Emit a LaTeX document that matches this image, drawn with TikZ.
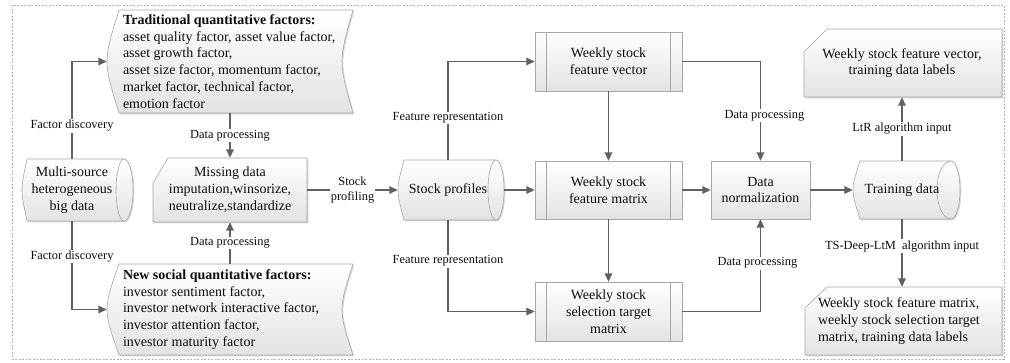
\documentclass[tikz,border=0pt]{standalone}
\usepackage{fontspec}
\setmainfont{Liberation Serif}
\usetikzlibrary{arrows.meta,shadows}
\newcommand\rsCyl[7]{% Lb Lc Rc Rout Rin T B
  \pgfmathsetmacro\rsM{(#6+#7)/2}%
  \pgfmathsetmacro\rsK{0.5523*(#7-#6)/2}%
  \path[nodefill] (#2,#6) -- (#3,#6)
    .. controls ({#3+0.5523*(#4-#3)},#6) and (#4,{\rsM-\rsK}) .. (#4,\rsM)
    .. controls (#4,{\rsM+\rsK}) and ({#3+0.5523*(#4-#3)},#7) .. (#3,#7)
    -- (#2,#7) .. controls ({#2-1.333*(#2-#1)},\rsM) .. (#2,#6) -- cycle;
  \draw[nodeline] (#3,#6)
    .. controls ({#3-0.5523*(#3-#5)},#6) and (#5,{\rsM-\rsK}) .. (#5,\rsM)
    .. controls (#5,{\rsM+\rsK}) and ({#3-0.5523*(#3-#5)},#7) .. (#3,#7);
}
\newcommand\rsSto[6]{% Lb Lc Rc Rin T B
  \pgfmathsetmacro\rsM{(#5+#6)/2}%
  \path[nodefill] (#2,#5) -- (#3,#5) .. controls ({#3-1.333*(#3-#4)},\rsM) .. (#3,#6) -- (#2,#6) .. controls ({#2-1.333*(#2-#1)},\rsM) .. (#2,#5) -- cycle;
}
\newcommand\rsMan[6]{% L Ls Lt R T B
  \path[nodefill] (#1,#2) -- (#3,#5) -- (#4,#5) -- (#4,#6) -- (#1,#6) -- cycle;
}
\newcommand\rsPre[4]{% L R T B
  \path[nodefill] (#1,#3) rectangle (#2,#4);
  \draw[nodeline] ({#1+11},#3) -- ({#1+11},#4) ({#2-12},#3) -- ({#2-12},#4);
}
\begin{document}
\begin{tikzpicture}[x=1pt,y=-1pt,
  nodefill/.style={draw=black!35, line width=0.6pt, top color=white, bottom color=black!11,
    drop shadow={shadow xshift=1.3pt, shadow yshift=-1.3pt, opacity=0.16, fill=black}},
  nodeline/.style={draw=black!35, line width=0.6pt},
  txt/.style={inner sep=0pt, text=black!95, font=\fontsize{14}{16.8}\selectfont, align=center},
  txtp/.style={inner sep=0pt, text=black!95, font=\fontsize{14}{16.8}\selectfont},
  lab/.style={fill=white, inner sep=1pt, text=black!95, font=\fontsize{12.4}{15.5}\selectfont, align=center},
  arr/.style={draw=black!62, line width=1.8pt, -{Triangle[length=8.5pt,width=7.5pt]}}]
\useasboundingbox (0,0) rectangle (1010,362);
\draw[draw=black!30, line width=0.5pt, dash pattern=on 2pt off 1.5pt] (12,5) rectangle (1004,359);
% shapes
\rsCyl{22}{27}{124}{133}{116}{159}{221}
\rsSto{107}{119}{353}{342}{10}{113}
\rsSto{107}{119}{353}{342}{264}{355}
\rsMan{153}{183}{168}{307}{158}{222}
\rsCyl{398}{404}{496}{504}{488}{160}{220}
\rsPre{535}{682}{32}{91}
\rsPre{535}{682}{161}{219}
\rsPre{535}{682}{282}{341}
\path[nodefill] (711,161) rectangle (810,219);
\rsCyl{853}{860}{951}{960}{937}{161}{219}
\rsMan{804}{52}{827}{1002}{29}{97}
\rsMan{805}{308}{827}{1002}{287}{355}
% nodes
\node[txt, minimum width=100, minimum height=62] (ms) at (72,190) {Multi-source\\heterogeneous\\big data};
\node[txtp, minimum width=246, minimum height=103] (trad) at (230,61.5) {\hspace*{8pt}\parbox{222pt}{\raggedright\fontsize{14}{16.8}\selectfont
  \textbf{Traditional quantitative factors:}\\
  asset quality factor, asset value factor,\\
  asset growth factor,\\
  asset size factor, momentum factor,\\
  market factor, technical factor,\\
  emotion factor}};
\node[txtp, minimum width=246, minimum height=91] (newsoc) at (230,309.5) {\hspace*{8pt}\parbox{222pt}{\raggedright\fontsize{14}{16.8}\selectfont
  \textbf{New social quantitative factors:}\\
  investor sentiment factor,\\
  investor network interactive factor,\\
  investor attention factor,\\
  investor maturity factor}};
\node[txt, minimum width=154, minimum height=64] (miss) at (230,190) {Missing data\\imputation,winsorize,\\neutralize,standardize};
\node[txt, minimum width=100, minimum height=60] (sp) at (448,190) {Stock profiles};
\node[txt, minimum width=147, minimum height=59] (wk1) at (608.5,61.5) {Weekly stock\\feature vector};
\node[txt, minimum width=147, minimum height=58] (wk2) at (608.5,190) {Weekly stock\\feature matrix};
\node[txt, minimum width=147, minimum height=59] (wk3) at (608.5,311.5) {Weekly stock\\selection target\\matrix};
\node[txt, minimum width=99, minimum height=58] (dn) at (760.5,190) {Data\\normalization};
\node[txt, minimum width=98, minimum height=58] (td) at (902,190) {Training data};
\node[txt, minimum width=196, minimum height=68] (out1) at (902,63) {Weekly stock feature vector,\\training data labels};
\node[txtp, minimum width=196, minimum height=68] (out2) at (902,321) {\parbox{168pt}{\raggedright\fontsize{14}{16.8}\selectfont
  Weekly stock feature matrix,\\
  weekly stock selection target\\
  matrix, training data labels}};
% connectors
\draw[arr] (ms.north) |- node[lab,pos=0.169]{Factor discovery} (trad.west);
\draw[arr] (ms.south) |- node[lab,pos=0.198]{Factor discovery} (newsoc.west);
\draw[arr] (trad.south) -- node[lab]{Data processing} (miss.north);
\draw[arr] (newsoc.north) -- node[lab]{Data processing} (miss.south);
\draw[arr] (miss.east) -- node[lab]{Stock\\profiling} (sp.west);
\draw[arr] (sp.north) |- node[lab,pos=0.213]{Feature representation} (wk1.west);
\draw[arr] (sp.south) |- node[lab,pos=0.224]{Feature representation} (wk3.west);
\draw[arr] ([xshift=6pt]sp.east) -- (wk2.west);
\draw[arr] (wk1.south) -- (wk2.north);
\draw[arr] (wk2.south) -- (wk3.north);
\draw[arr] (wk1.east) -| node[lab,pos=0.774,xshift=4pt]{Data processing} (dn.north);
\draw[arr] (wk3.east) -| node[lab,pos=0.762,xshift=-3pt]{Data processing} (dn.south);
\draw[arr] (wk2.east) -- (dn.west);
\draw[arr] (dn.east) -- (td.west);
\draw[arr] (td.north) -- node[lab]{LtR algorithm input} (out1.south);
\draw[arr] (td.south) -- node[lab,pos=0.397]{TS-Deep-LtM\ \ algorithm input} (out2.north);
\end{tikzpicture}
\end{document}
